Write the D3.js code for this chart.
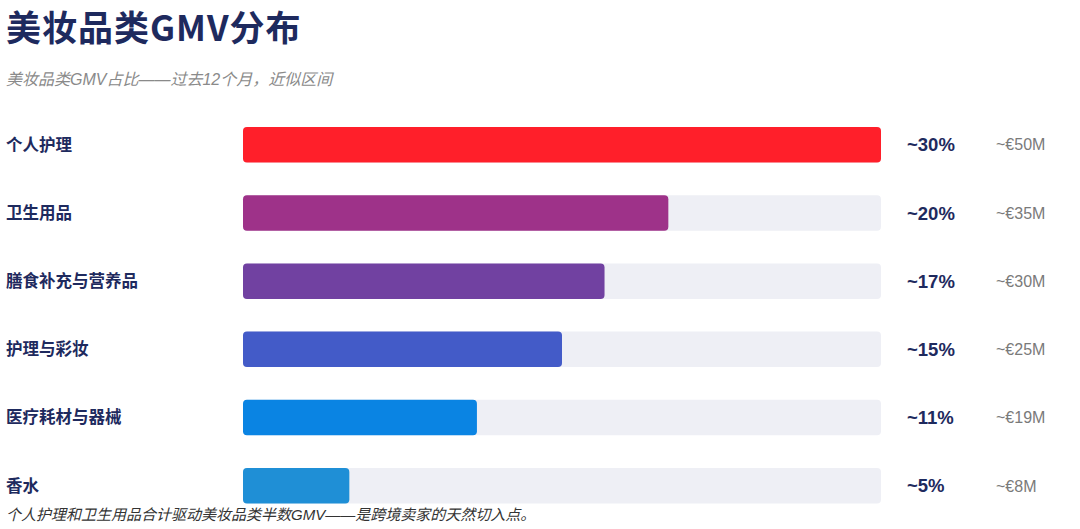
<!DOCTYPE html>
<html>
<head>
<meta charset="utf-8">
<script src="https://cdn.jsdelivr.net/npm/d3@7"></script>
<style>
  body { margin: 0; background: #fff; }
  svg { display: block; }
</style>
</head>
<body>
<svg id="chart"></svg>
<script>
// data
const categories = ["个人护理", "卫生用品", "膳食补充与营养品", "护理与彩妆", "医疗耗材与器械", "香水"];
const shares = [30, 20, 17, 15, 11, 5];
const amounts = [50, 35, 30, 25, 19, 8];
const colors = ["#ff1f2a", "#9e3289", "#7141a1", "#435bc8", "#0a84e3", "#1f8fd6"];

const title = "美妆品类GMV分布";
const subtitle = "美妆品类GMV占比——过去12个月，近似区间";
const footnote = "个人护理和卫生用品合计驱动美妆品类半数GMV——是跨境卖家的天然切入点。";

const width = 1080, height = 529;
const navy = "#1e2a5e";
const cjk = "'Noto Sans CJK SC', 'Liberation Sans', sans-serif";
const latin = "'Liberation Sans', Arial, 'Noto Sans CJK SC', sans-serif";

const svg = d3.select("#chart")
    .attr("width", width)
    .attr("height", height);

svg.append("text")
    .attr("x", 6)
    .attr("y", 41)
    .attr("font-family", cjk)
    .attr("font-weight", 700)
    .attr("font-size", 35)
    .attr("letter-spacing", 1)
    .attr("fill", navy)
    .text(title);

svg.append("text")
    .attr("x", 6)
    .attr("y", 85)
    .attr("font-family", latin)
    .attr("font-style", "italic")
    .attr("font-size", 16)
    .attr("fill", "#8a8a8a")
    .text(subtitle);

const x = d3.scaleLinear()
    .domain([0, 30])
    .range([243, 881]);

const y = d3.scaleBand()
    .domain(categories)
    .range([127, 503.5])
    .paddingInner(0.48)
    .paddingOuter(0);

const rows = svg.append("g")
    .selectAll("g")
    .data(categories)
    .join("g");

// grey track
rows.append("rect")
    .attr("x", x(0))
    .attr("y", d => y(d))
    .attr("width", x(30) - x(0))
    .attr("height", y.bandwidth())
    .attr("rx", 4)
    .attr("fill", "#eeeff5");

rows.append("rect")
    .attr("x", x(0))
    .attr("y", d => y(d))
    .attr("width", (d, i) => x(shares[i]) - x(0))
    .attr("height", y.bandwidth())
    .attr("rx", 4)
    .attr("fill", (d, i) => colors[i]);

rows.append("text")
    .attr("x", 6)
    .attr("y", d => y(d) + y.bandwidth() / 2)
    .attr("dy", "0.35em")
    .attr("font-family", cjk)
    .attr("font-weight", 700)
    .attr("font-size", 16.5)
    .attr("fill", navy)
    .text(d => d);

rows.append("text")
    .attr("x", 907)
    .attr("y", d => y(d) + y.bandwidth() / 2)
    .attr("dy", "0.36em")
    .attr("font-family", latin)
    .attr("font-weight", 700)
    .attr("font-size", 18.5)
    .attr("fill", navy)
    .text((d, i) => `~${shares[i]}%`);

rows.append("text")
    .attr("x", 996)
    .attr("y", d => y(d) + y.bandwidth() / 2)
    .attr("dy", "0.36em")
    .attr("font-family", latin)
    .attr("font-size", 16)
    .attr("fill", "#7a7a7a")
    .text((d, i) => `~€${amounts[i]}M`);

svg.append("text")
    .attr("x", 6)
    .attr("y", 520)
    .attr("font-family", latin)
    .attr("font-style", "italic")
    .attr("font-size", 15)
    .attr("fill", "#333")
    .text(footnote);
</script>
</body>
</html>
